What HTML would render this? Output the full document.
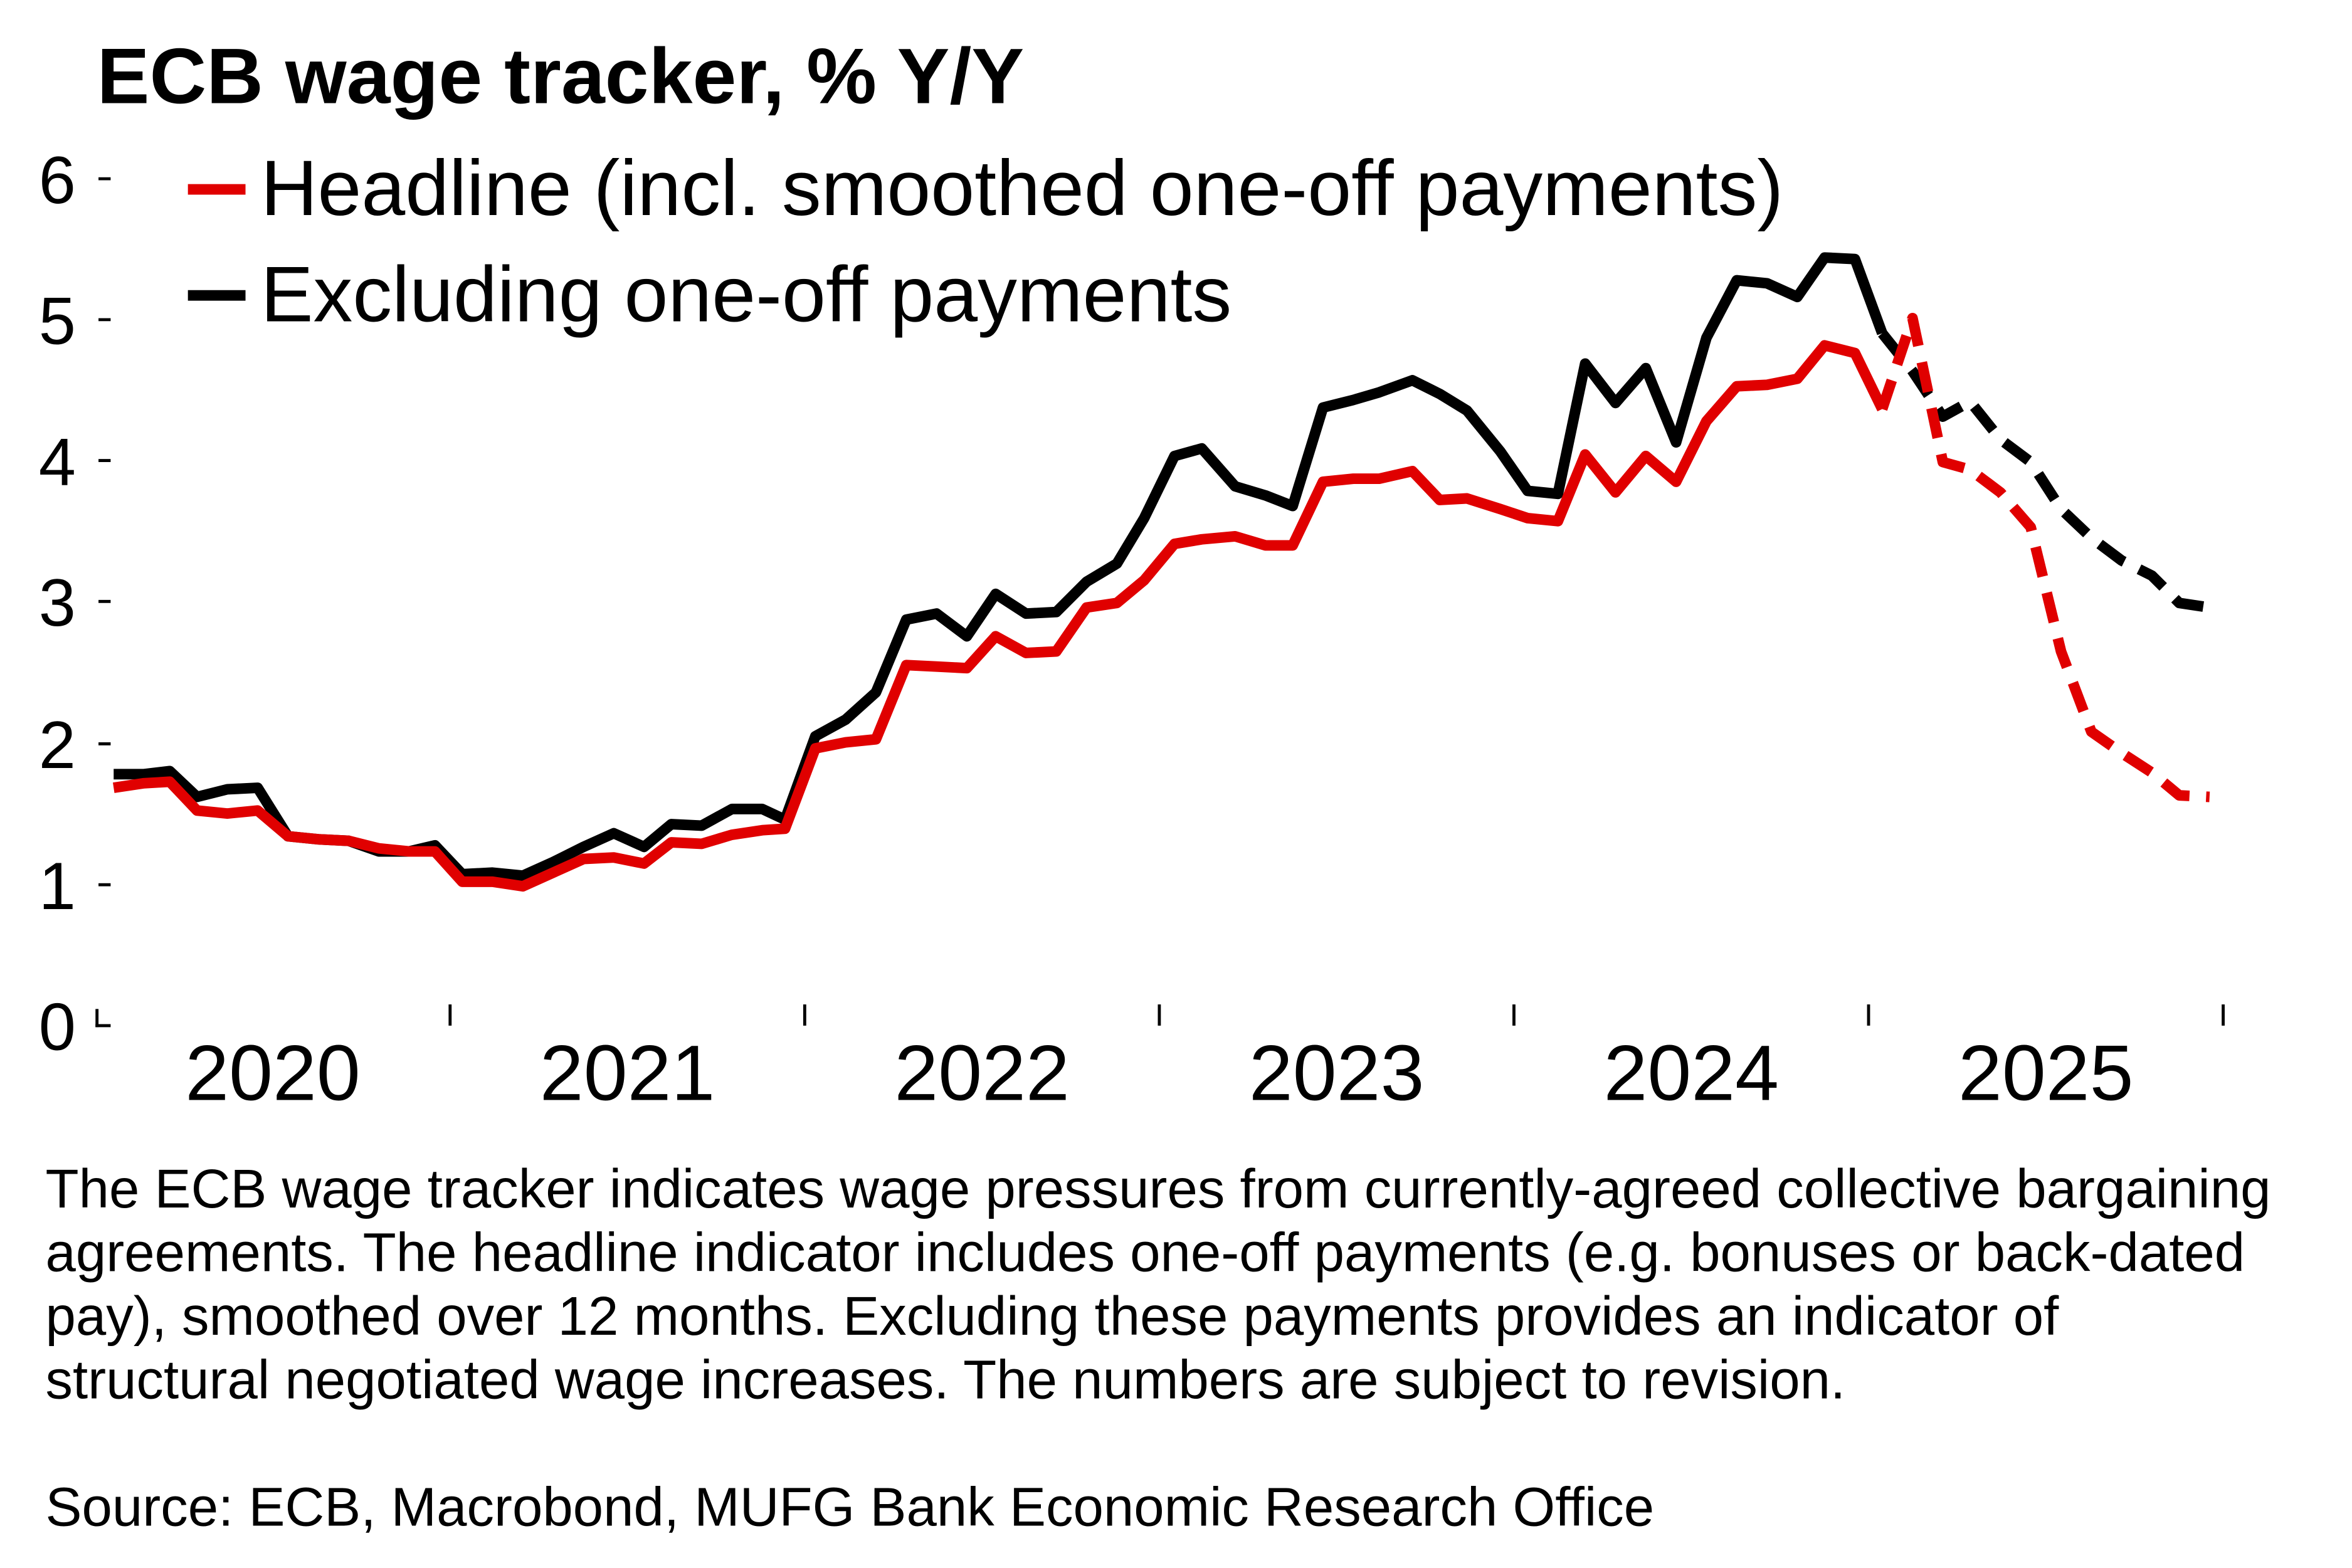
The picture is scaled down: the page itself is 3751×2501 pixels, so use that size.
<!DOCTYPE html>
<html><head><meta charset="utf-8"><style>
html,body{margin:0;padding:0;background:#fff;}
svg{display:block;}
text{font-family:"Liberation Sans",Arial,sans-serif;fill:#000;}
</style></head><body>
<svg width="3751" height="2501" viewBox="0 0 1552 1035" preserveAspectRatio="none" xmlns="http://www.w3.org/2000/svg">
<text x="64" y="68" font-size="52" font-weight="bold">ECB wage tracker, % Y/Y</text>
<line x1="124" y1="125" x2="162" y2="125" stroke="#e00000" stroke-width="7"/>
<text x="172" y="142" font-size="52">Headline (incl. smoothed one-off payments)</text>
<line x1="124" y1="195" x2="162" y2="195" stroke="#000" stroke-width="7"/>
<text x="172" y="212" font-size="52">Excluding one-off payments</text>
<g font-size="44" text-anchor="end">
<text x="50" y="693">0</text><text x="50" y="600">1</text><text x="50" y="507">2</text>
<text x="50" y="413">3</text><text x="50" y="320">4</text><text x="50" y="227">5</text><text x="50" y="134">6</text>
</g>
<g stroke="#000" stroke-width="2">
<line x1="65" y1="118" x2="73" y2="118"/><line x1="65" y1="211" x2="73" y2="211"/><line x1="65" y1="304" x2="73" y2="304"/>
<line x1="65" y1="397" x2="73" y2="397"/><line x1="65" y1="491" x2="73" y2="491"/><line x1="65" y1="584" x2="73" y2="584"/>
<line x1="64" y1="666" x2="64" y2="678"/><line x1="63" y1="677" x2="73" y2="677"/>
<line x1="297" y1="663" x2="297" y2="677"/><line x1="531" y1="663" x2="531" y2="677"/><line x1="765" y1="663" x2="765" y2="677"/>
<line x1="999" y1="663" x2="999" y2="677"/><line x1="1233" y1="663" x2="1233" y2="677"/><line x1="1467" y1="663" x2="1467" y2="677"/>
</g>
<g font-size="52" text-anchor="middle">
<text x="180" y="732" transform="translate(0,-6)">2020</text><text x="414" y="726">2021</text><text x="648" y="726">2022</text>
<text x="882" y="726">2023</text><text x="1116" y="726">2024</text><text x="1350" y="726">2025</text>
</g>
<g fill="none" stroke-width="7" stroke-linejoin="round">
<polyline stroke="#000" points="75,511 95,511 112,509 130,526 150,521 170,520 190,552 210,554 230,555 250,562 270,562 287,558 305,577 325,576 345,578 365,569 385,559 405,550 425,559 443,544 463,545 483,534 503,534 518,541 538,486 558,475 578,457 598,409 618,405 638,420 657,392 677,405 697,404 717,384 737,372 755,342 775,301 793,296 815,321 835,327 853,334 873,269 893,264 910,259 932,251 950,260 968,271 990,298 1008,324 1028,326 1046,240 1066,266 1086,243 1106,292 1126,223 1146,185 1166,187 1186,196 1204,170 1224,171 1242,220"/>
<polyline stroke="#000" stroke-dasharray="20,11" points="1242,220 1262,245 1282,275 1300,265 1320,290 1340,305 1360,336 1380,355 1400,370 1420,380 1438,398 1458,401"/>
<polyline stroke="#e00000" points="75,520 95,517 112,516 130,535 150,537 170,535 190,552 210,554 230,555 250,560 270,562 287,562 305,582 325,582 345,585 365,576 385,567 405,566 425,570 443,556 463,557 483,551 503,548 518,547 538,494 558,490 578,488 598,439 618,440 638,441 657,420 677,431 697,430 717,401 737,398 755,383 775,359 793,356 815,354 835,360 853,360 873,318 893,316 910,316 932,311 950,330 968,329 990,336 1008,342 1028,344 1046,300 1066,325 1086,301 1106,318 1126,278 1146,255 1166,254 1186,250 1204,228 1224,233 1242,270"/>
<polyline stroke="#e00000" stroke-dasharray="20,11" points="1242,270 1262,210 1282,305 1300,310 1320,325 1340,348 1360,430 1380,483 1400,497 1420,510 1438,525 1458,526"/>
</g>
<g font-size="36">
<text x="30" y="797">The ECB wage tracker indicates wage pressures from currently-agreed collective bargaining</text>
<text x="30" y="839">agreements. The headline indicator includes one-off payments (e.g. bonuses or back-dated</text>
<text x="30" y="881">pay), smoothed over 12 months. Excluding these payments provides an indicator of</text>
<text x="30" y="923">structural negotiated wage increases. The numbers are subject to revision.</text>
<text x="30" y="1007">Source: ECB, Macrobond, MUFG Bank Economic Research Office</text>
</g>
</svg>
</body></html>
